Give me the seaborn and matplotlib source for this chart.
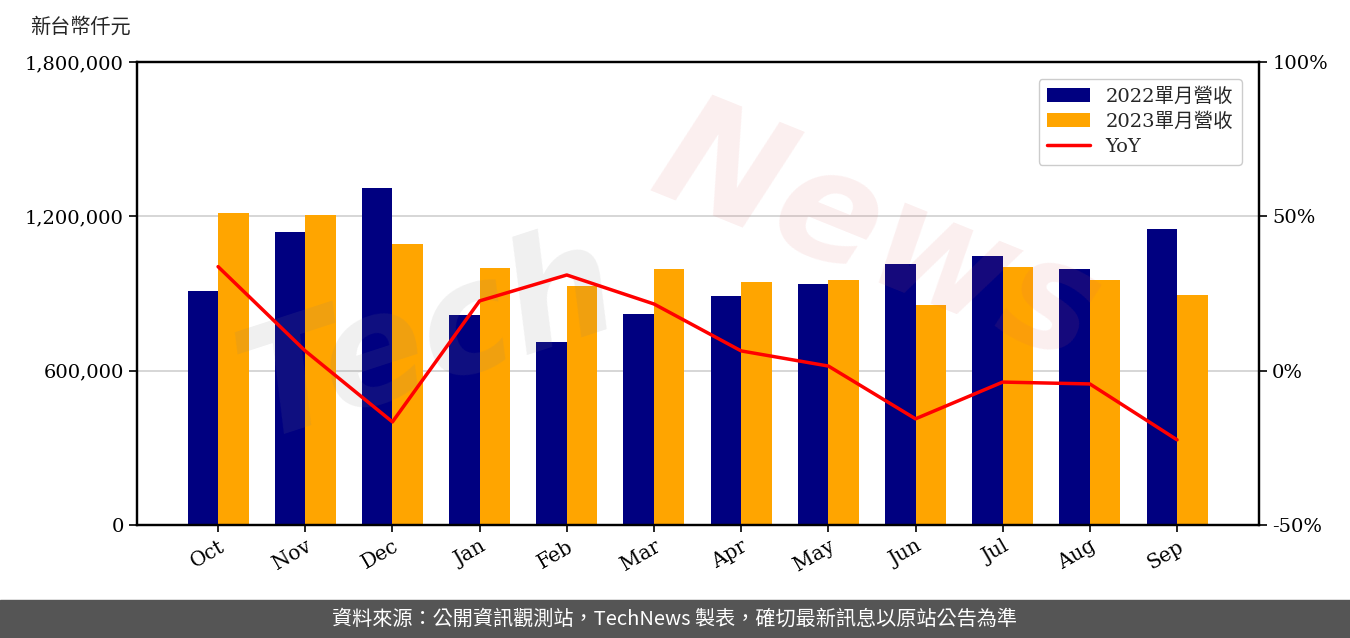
import matplotlib
matplotlib.use("Agg")
import matplotlib.pyplot as plt
import matplotlib.ticker as mticker
import pandas as pd
import seaborn as sns

months = ["Oct", "Nov", "Dec", "Jan", "Feb", "Mar", "Apr", "May", "Jun", "Jul", "Aug", "Sep"]
rev_2022 = [910000, 1139000, 1310000, 816000, 711000, 820000,
            890000, 937000, 1015000, 1046000, 995000, 1151000]
rev_2023 = [1213000, 1205000, 1092000, 999000, 929000, 995000,
            945000, 952000, 855000, 1003000, 952000, 894000]
yoy = [0.337, 0.064, -0.166, 0.226, 0.31, 0.216,
       0.064, 0.015, -0.156, -0.037, -0.043, -0.224]

label_22 = "2022單月營收"
label_23 = "2023單月營收"

sns.set_theme(style="white")
plt.rcParams["font.family"] = ["DejaVu Serif", "Noto Sans CJK TC"]

df = pd.DataFrame({
    "month": months * 2,
    "revenue": rev_2022 + rev_2023,
    "series": [label_22] * 12 + [label_23] * 12,
})

fig = plt.figure(figsize=(13.5, 6.38), dpi=100)
ax = fig.add_axes([137 / 1350, 1 - 525 / 638, (1259 - 137) / 1350, (525 - 62) / 638])

sns.barplot(data=df, x="month", y="revenue", hue="series", order=months,
            palette=["#000080", "#FFA500"], saturation=1, width=0.7,
            linewidth=0, ax=ax, legend=True)

# faint watermark, drawn over the bars like the original
ax.text(0.26, 0.40, "Tech", transform=ax.transAxes, fontsize=110, color="#808080",
        alpha=0.12, rotation=18, fontweight="bold", style="italic",
        family="DejaVu Sans", ha="center", va="center", zorder=3, clip_on=True)
ax.text(0.66, 0.62, "News", transform=ax.transAxes, fontsize=110, color="#e06060",
        alpha=0.10, rotation=-22, fontweight="bold", style="italic",
        family="DejaVu Sans", ha="center", va="center", zorder=3, clip_on=True)

ax.set_ylim(0, 1800000)
ax.set_xlim(-0.93, 11.94)
ax.set_yticks([0, 600000, 1200000, 1800000])
ax.yaxis.set_major_formatter(mticker.StrMethodFormatter("{x:,.0f}"))
ax.grid(axis="y", color="#d0d0d0", lw=1.2)
ax.set_axisbelow(True)
ax.set_xlabel("")
ax.set_ylabel("")
for s in ax.spines.values():
    s.set_color("black")
    s.set_linewidth(1.6)
ax.tick_params(axis="y", left=True, length=6, width=1.2, labelsize=14, colors="black")
ax.tick_params(axis="x", bottom=True, length=5, width=1.2, labelsize=14.5, colors="black")
plt.setp(ax.get_xticklabels(), rotation=30, ha="right", rotation_mode="anchor")

ax2 = ax.twinx()
ax2.plot(range(len(months)), yoy, color="red", lw=2.5, label="YoY")
ax2.set_ylim(-0.5, 1.0)
ax2.set_yticks([-0.5, 0, 0.5, 1.0])
ax2.yaxis.set_major_formatter(mticker.FuncFormatter(lambda v, _: f"{v * 100:.0f}%"))
ax2.tick_params(axis="y", right=True, length=6, width=1.2, labelsize=14, colors="black")
ax2.set_xlim(-0.93, 11.94)
for s in ax2.spines.values():
    s.set_linewidth(1.6)
    s.set_color("black")

h1, l1 = ax.get_legend_handles_labels()
h2, l2 = ax2.get_legend_handles_labels()
ax.get_legend().remove()
ax2.legend(h1 + h2, l1 + l2, loc="upper right", fontsize=14, frameon=True,
           edgecolor="#cccccc", framealpha=1, handlelength=2.2,
           bbox_to_anchor=(0.9935, 0.985), borderpad=0.45, labelspacing=0.35)

fig.text(30 / 1350, 1 - 27 / 638, "新台幣仟元", fontsize=14.5, va="center", ha="left",
         family=["Noto Sans CJK TC", "DejaVu Serif"])

# footer band
fig.patches.append(plt.Rectangle((0, 0), 1, 38 / 638, transform=fig.transFigure,
                                 color="#555555", zorder=0))
fig.text(0.5, 19 / 638, "資料來源：公開資訊觀測站，TechNews 製表，確切最新訊息以原站公告為準",
         color="white", fontsize=14.5, ha="center", va="center",
         family=["Noto Sans CJK TC", "DejaVu Sans"])

fig.savefig("out.png", dpi=100)
